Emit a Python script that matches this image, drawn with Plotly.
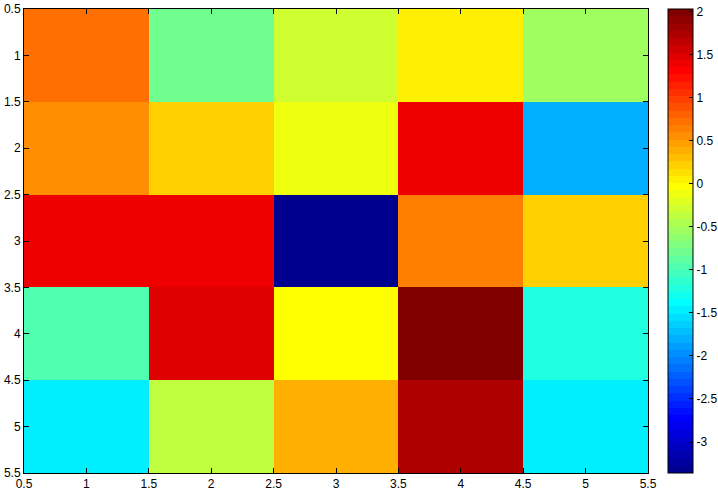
import plotly.graph_objects as go

cols = [1, 2, 3, 4, 5]
rows = [1, 2, 3, 4, 5]
values = [
    [0.72, -0.79, -0.29, 0.05, -0.54],
    [0.56, 0.22, -0.12, 1.40, -1.80],
    [1.40, 1.40, -3.36, 0.64, 0.22],
    [-0.96, 1.48, -0.03, 2.03, -1.21],
    [-1.47, -0.37, 0.39, 1.73, -1.47],
]
axis_ticks = [0.5, 1, 1.5, 2, 2.5, 3, 3.5, 4, 4.5, 5, 5.5]
axis_labels = ["0.5", "1", "1.5", "2", "2.5", "3", "3.5", "4", "4.5", "5", "5.5"]
cbar_ticks = [-3, -2.5, -2, -1.5, -1, -0.5, 0, 0.5, 1, 1.5, 2]
cbar_labels = ["-3", "-2.5", "-2", "-1.5", "-1", "-0.5", "0", "0.5", "1", "1.5", "2"]
zmin, zmax = -3.36, 2.03


def jet(i):
    # MATLAB jet(64), i = 1..64
    if i <= 8:
        r, g, b = 0, 0, (i + 8) / 16
    elif i <= 24:
        r, g, b = 0, (i - 8) / 16, 1
    elif i <= 40:
        r, g, b = (i - 24) / 16, 1, 1 - (i - 24) / 16
    elif i <= 56:
        r, g, b = 1, 1 - (i - 40) / 16, 0
    else:
        r, g, b = 1 - (i - 56) / 16, 0, 0
    return "rgb(%d,%d,%d)" % (round(r * 255), round(g * 255), round(b * 255))


cscale = []
for k in range(64):
    c = jet(k + 1)
    cscale.append([k / 64, c])
    cscale.append([(k + 1) / 64, c])

font = dict(family="Liberation Sans, Arial, sans-serif", size=12, color="black")

L, R, T, B = 24, 70, 9, 18
W, H = 718, 491
plot_w = W - L - R

fig = go.Figure(go.Heatmap(
    x=cols, y=rows, z=values,
    zmin=zmin, zmax=zmax, colorscale=cscale,
    xgap=0, ygap=0,
    colorbar=dict(
        x=(668 - L) / plot_w, xanchor="left", xref="paper",
        y=0.5, yanchor="middle", len=1.0, lenmode="fraction",
        thickness=25, thicknessmode="pixels",
        xpad=0, ypad=0,
        outlinewidth=1, outlinecolor="black",
        tickmode="array", tickvals=cbar_ticks, ticktext=cbar_labels,
        ticks="inside", ticklen=4, tickcolor="black",
        tickfont=font,
    ),
))

axcommon = dict(
    tickmode="array", tickvals=axis_ticks, ticktext=axis_labels,
    ticks="inside", ticklen=5, tickcolor="black",
    showline=True, linecolor="black", linewidth=1, mirror="ticks",
    showgrid=False, zeroline=False, tickfont=font, automargin=False,
)
fig.update_xaxes(range=[0.5, 5.5], **axcommon)
fig.update_yaxes(range=[5.5, 0.5], **axcommon)

fig.update_layout(
    width=W, height=H,
    margin=dict(l=L, r=R, t=T, b=B, autoexpand=False),
    paper_bgcolor="white", plot_bgcolor="white",
    font=font,
)

fig.write_html(
    "out.html",
    config={"displayModeBar": False},
    post_script="document.body.style.margin='0';document.body.style.overflow='hidden';",
)
